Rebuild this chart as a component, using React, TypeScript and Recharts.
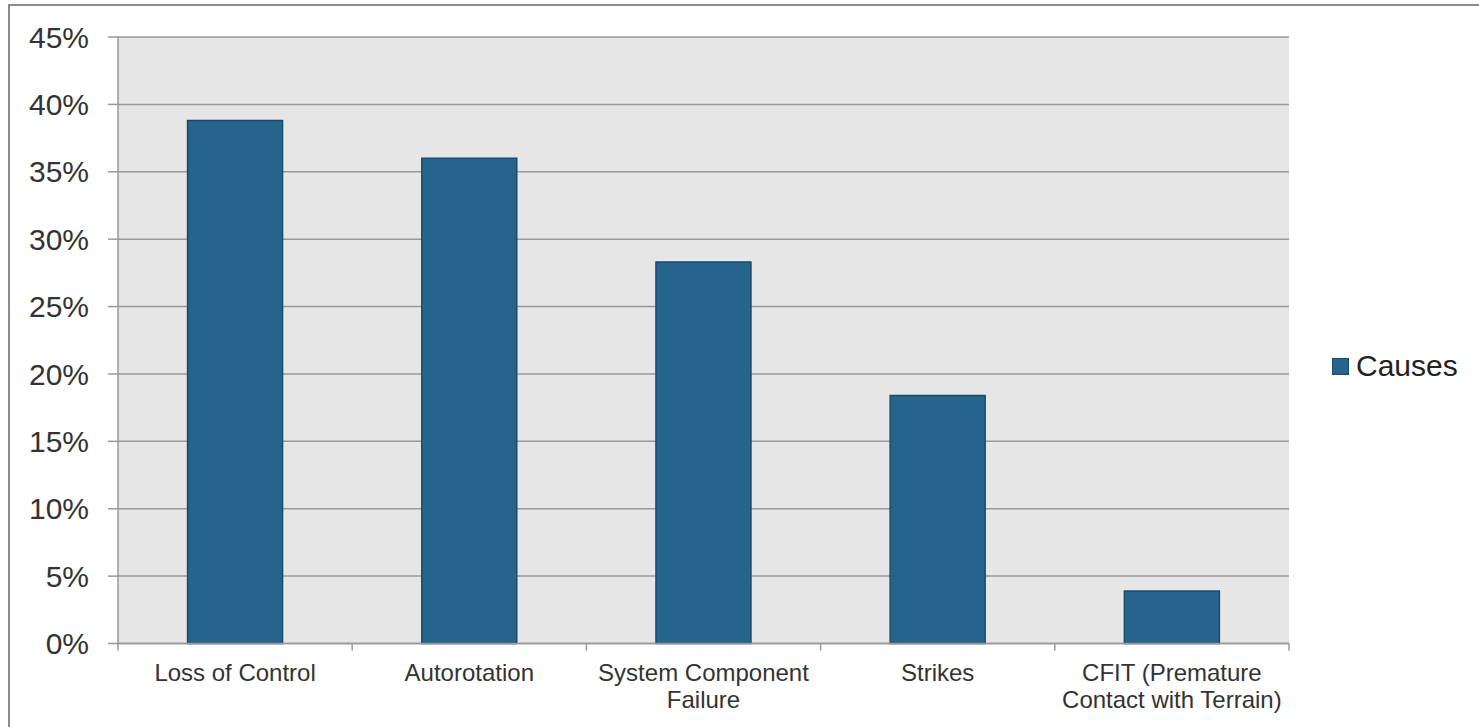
import React from 'react';
import { BarChart, Bar, XAxis, YAxis, CartesianGrid, Legend } from 'recharts';

const categories = [
  'Loss of Control',
  'Autorotation',
  'System Component Failure',
  'Strikes',
  'CFIT (Premature Contact with Terrain)',
];
const causes = [0.388, 0.360, 0.283, 0.184, 0.039];
const yTicks = [0, 0.05, 0.1, 0.15, 0.2, 0.25, 0.3, 0.35, 0.4, 0.45];
// manual line breaks as in the original picture
const labelLines: Record<string, string[]> = {
  'System Component Failure': ['System Component', 'Failure'],
  'CFIT (Premature Contact with Terrain)': ['CFIT (Premature', 'Contact with Terrain)'],
};

const data = categories.map((name, i) => ({ name, Causes: causes[i] }));

const FONT = '"Liberation Sans", Arial, sans-serif';
const GRID = '#999999';

const CategoryTick = (props: any) => {
  const { x, y, payload, index } = props;
  const half = payload?.offset ?? 0;
  const lines = labelLines[payload.value] || [payload.value];
  const isLast = index === categories.length - 1;
  return (
    <g>
      <line x1={x - half} x2={x - half} y1={y} y2={y + 7} stroke={GRID} strokeWidth={1.5} />
      {isLast && (
        <line x1={x + half} x2={x + half} y1={y} y2={y + 7} stroke={GRID} strokeWidth={1.5} />
      )}
      <text x={x} y={y + 37} textAnchor="middle" fill="#333" fontSize={24} fontFamily={FONT}>
        {lines.map((l, i) => (
          <tspan key={i} x={x} dy={i === 0 ? 0 : 27}>{l}</tspan>
        ))}
      </text>
    </g>
  );
};

const LegendBox = () => (
  <div style={{ display: 'flex', alignItems: 'center', fontFamily: FONT, fontSize: 30, color: '#222' }}>
    <span style={{ width: 17, height: 17, background: '#25648d', border: '1px solid #1b4a6c', boxSizing: 'border-box', marginRight: 7, display: 'inline-block' }} />
    Causes
  </div>
);

export default function App() {
  return (
    <div style={{ position: 'absolute', left: 0, top: 0, width: 1479, height: 727, overflow: 'hidden', background: '#fff' }}>
      <div style={{ position: 'absolute', left: 8, top: 4, width: 1500, height: 760, border: '2px solid #8c8c8c', boxSizing: 'border-box' }} />
      <div style={{ position: 'absolute', left: 0, top: 0 }}>
        <BarChart
          width={1479}
          height={727}
          data={data}
          margin={{ top: 37, right: 190, bottom: 0, left: 0 }}
          barCategoryGap="29.7%"
        >
          <CartesianGrid vertical={false} fill="#e6e6e6" stroke={GRID} strokeWidth={1.5} />
          <YAxis
            width={118}
            domain={[0, 0.45]}
            ticks={yTicks}
            interval={0}
            tickFormatter={(v: number) => `${Math.round(v * 100)}%`}
            tick={{ fill: '#333', fontSize: 30, fontFamily: FONT }}
            tickSize={10}
            tickMargin={19}
            tickLine={{ stroke: GRID, strokeWidth: 1.5 }}
            axisLine={{ stroke: GRID, strokeWidth: 1.5 }}
          />
          <XAxis
            dataKey="name"
            height={83.5}
            interval={0}
            tick={<CategoryTick />}
            tickLine={false}
            tickSize={0}
            tickMargin={0}
            axisLine={{ stroke: GRID, strokeWidth: 1.5 }}
          />
          <Legend
            layout="vertical"
            verticalAlign="middle"
            align="center"
            content={<LegendBox />}
            wrapperStyle={{ left: 1332, top: 349, width: 150 }}
          />
          <Bar dataKey="Causes" fill="#25648d" stroke="#1b4a6c" strokeWidth={1.5} isAnimationActive={false} />
        </BarChart>
      </div>
    </div>
  );
}
